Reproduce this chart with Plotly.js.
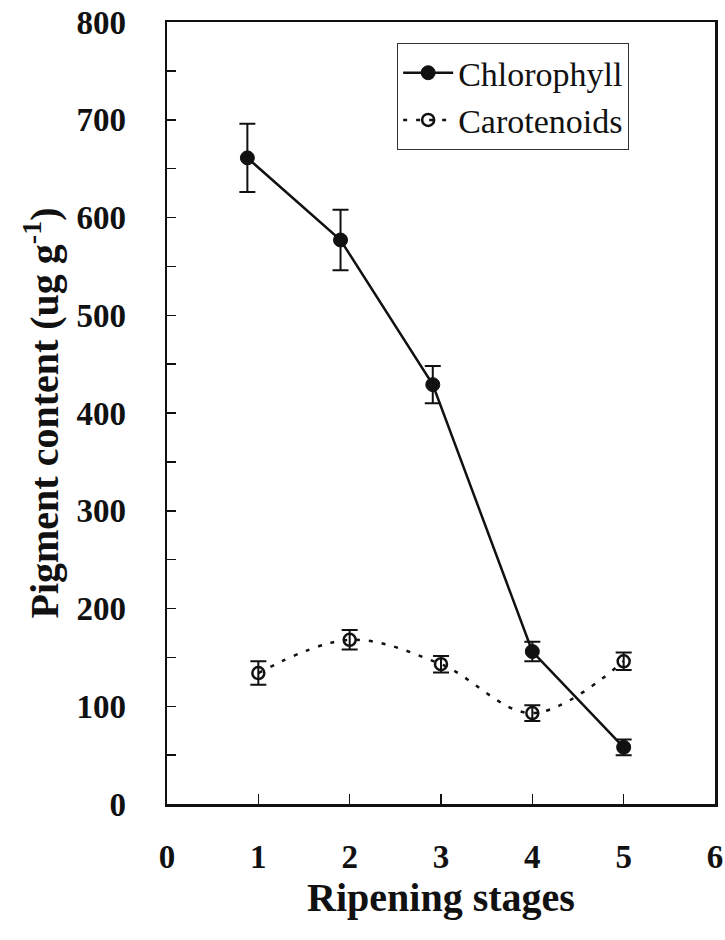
<!DOCTYPE html>
<html>
<head>
<meta charset="utf-8">
<script src="https://cdn.plot.ly/plotly-3.0.1.min.js"></script>
<style>html,body{margin:0;padding:0;background:#fff;}#chart{width:725px;height:940px;}</style>
</head>
<body>
<div id="chart"></div>
<script>
// Data
const chlX = [0.88, 1.9, 2.91, 4, 5];
const chlY = [661, 577, 429, 156, 58];
const chlErr = [35, 31, 19, 10, 8];

const carX = [1, 2, 3, 4, 5];
const carY = [134, 168, 143, 93, 146];
const carErr = [12, 10, 8.5, 8, 9];

const seriesNames = ['Chlorophyll', 'Carotenoids'];
const xTicks = [0, 1, 2, 3, 4, 5, 6];
const yTicks = [0, 100, 200, 300, 400, 500, 600, 700, 800];

const serif = 'Liberation Serif, Times New Roman, serif';
const ink = '#111111';

const traces = [
  {
    x: chlX, y: chlY, name: seriesNames[0], type: 'scatter', mode: 'lines+markers',
    line: {color: ink, width: 2.5},
    marker: {symbol: 'circle', size: 14, color: ink, line: {color: ink, width: 1}},
    error_y: {type: 'data', array: chlErr, visible: true, color: ink, thickness: 2, width: 8}
  },
  {
    x: carX, y: carY, name: seriesNames[1], type: 'scatter', mode: 'lines+markers',
    line: {color: ink, width: 2.5, dash: '4px,9px', shape: 'spline', smoothing: 1},
    marker: {symbol: 'circle-open', size: 12, color: ink, line: {color: ink, width: 2.5}},
    error_y: {type: 'data', array: carErr, visible: true, color: ink, thickness: 2, width: 8}
  }
];

const layout = {
  width: 725, height: 940,
  margin: {l: 167, r: 10, t: 22, b: 136, pad: 0},
  paper_bgcolor: '#ffffff', plot_bgcolor: '#ffffff',
  showlegend: true,
  legend: {
    x: 0.42, y: 0.973, xanchor: 'left', yanchor: 'top',
    bgcolor: '#ffffff', bordercolor: '#333333', borderwidth: 1,
    font: {family: serif, size: 34, color: ink},
    itemwidth: 50
  },
  xaxis: {
    range: [0, 6], tickvals: xTicks, ticktext: xTicks.map(String),
    ticks: 'inside', ticklen: 10, tickwidth: 1.5, tickcolor: ink,
    showline: true, linecolor: ink, linewidth: 2.5, mirror: true,
    showgrid: false, zeroline: false,
    tickfont: {family: serif, size: 33, color: ink, weight: 'bold'},
    ticklabelstandoff: 22,
    title: {text: 'Ripening stages', font: {family: serif, size: 40, color: ink, weight: 'bold'}, standoff: 2}
  },
  yaxis: {
    range: [0, 800], tickvals: yTicks, ticktext: yTicks.map(String),
    ticks: 'inside', ticklen: 9, tickwidth: 1.5, tickcolor: ink,
    minor: {dtick: 50, ticks: 'inside', ticklen: 9, tickwidth: 1.5, tickcolor: ink, showgrid: false},
    showline: true, linecolor: ink, linewidth: 2.5, mirror: true,
    showgrid: false, zeroline: false,
    tickfont: {family: serif, size: 33, color: ink, weight: 'bold'},
    ticklabelstandoff: 32,
    title: {text: 'Pigment content (ug g<sup>-1</sup>)', font: {family: serif, size: 40, color: ink, weight: 'bold'}, standoff: 6}
  }
};

Plotly.newPlot('chart', traces, layout, {staticPlot: true, displayModeBar: false});
</script>
</body>
</html>
